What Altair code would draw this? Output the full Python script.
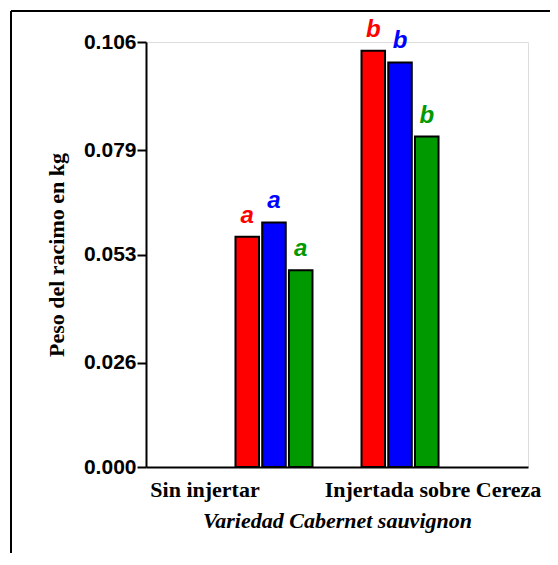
import altair as alt
import pandas as pd

# ---- data ----
groups = ["Sin injertar", "Injertada sobre Cereza"]
series = ["Serie 1", "Serie 2", "Serie 3"]
colors = ["#FF0000", "#0000FF", "#009900"]
values = {
    "Serie 1": [0.0574, 0.1038],
    "Serie 2": [0.0610, 0.1009],
    "Serie 3": [0.0491, 0.0824],
}
letters = {
    "Serie 1": ["a", "b"],
    "Serie 2": ["a", "b"],
    "Serie 3": ["a", "b"],
}
y_ticks = [0.000, 0.026, 0.053, 0.079, 0.106]

rows = []
for s in series:
    for g, v, l in zip(groups, values[s], letters[s]):
        rows.append({"grupo": g, "serie": s, "peso": v, "letra": l})
df = pd.DataFrame(rows)

W, H = 382, 425

x_enc = alt.X(
    "grupo:N",
    sort=groups,
    scale=alt.Scale(paddingInner=0.389, paddingOuter=0.71),
    axis=alt.Axis(
        title="Variedad Cabernet sauvignon",
        titleFont="Liberation Serif",
        titleFontSize=22,
        titleFontWeight="bold",
        titleFontStyle="italic",
        titlePadding=10,
        labelFont="Liberation Serif",
        labelFontSize=22,
        labelFontWeight="bold",
        labelAngle=0,
        labelPadding=12,
        labelLimit=0,
        labelOffset={"condition": {"test": "datum.value === 'Sin injertar'", "value": -69}, "value": 33},
        ticks=False,
        domainColor="black",
        domainWidth=2,
        labelColor="black",
        titleColor="black",
    ),
)
xoff_enc = alt.XOffset("serie:N", sort=series, scale=alt.Scale(paddingInner=0.12, paddingOuter=0))
y_enc = alt.Y(
    "peso:Q",
    scale=alt.Scale(domain=[0, 0.106], nice=False, zero=True),
    axis=alt.Axis(
        title="Peso del racimo en kg",
        titleFont="Liberation Serif",
        titleFontSize=22,
        titleFontWeight="bold",
        titlePadding=15,
        values=y_ticks,
        format=".3f",
        labelFont="Liberation Sans",
        labelFontSize=21,
        labelFontWeight="bold",
        labelPadding=1,
        tickSize=9,
        tickWidth=2,
        tickColor="black",
        domainColor="black",
        domainWidth=2,
        grid=False,
        labelColor="black",
        titleColor="black",
    ),
)
color_enc = alt.Color("serie:N", sort=series, scale=alt.Scale(domain=series, range=colors), legend=None)

base = alt.Chart(df)

bars = base.mark_bar(stroke="black", strokeWidth=2).encode(
    x=x_enc, xOffset=xoff_enc, y=y_enc, color=color_enc
)

labels = base.mark_text(
    font="Liberation Sans", fontWeight="bold", fontStyle="italic",
    fontSize=24, baseline="alphabetic", dy=-14
).encode(
    x=x_enc, xOffset=xoff_enc, y=y_enc, text="letra:N", color=color_enc
)

frame_top = alt.Chart(pd.DataFrame({"k": [0]})).mark_rule(color="black", strokeWidth=2).encode(
    x=alt.value(-135), x2=alt.value(430), y=alt.value(-31)
)
frame_left = alt.Chart(pd.DataFrame({"k": [0]})).mark_rule(color="black", strokeWidth=2).encode(
    x=alt.value(-135), y=alt.value(-31), y2=alt.value(540)
)

chart = alt.layer(frame_top, frame_left, bars, labels).properties(
    width=W, height=H,
    autosize=alt.AutoSizeParams(type="none"),
    padding={"left": 138, "top": 34, "right": 22, "bottom": 86},
).configure_view(stroke=None).configure(background="white")

chart.save("out.html", embed_options={"renderer": "svg", "actions": False})
